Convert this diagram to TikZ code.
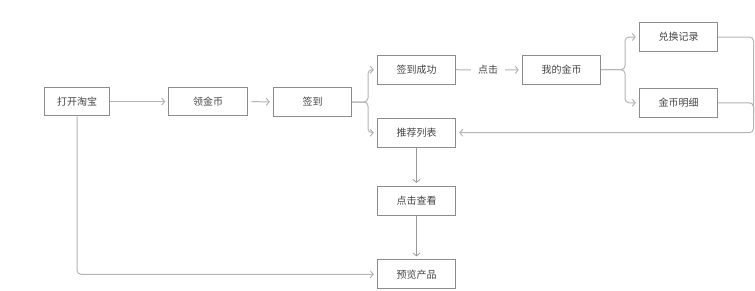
\documentclass[tikz,border=0pt]{standalone}
\usepackage{fontspec}
\setmainfont{Noto Sans CJK SC}
\usetikzlibrary{arrows.meta}
\definecolor{boxline}{HTML}{8C8C8C}
\definecolor{connline}{HTML}{B4B4B4}
\definecolor{vconn}{HTML}{9A9A9A}
\definecolor{txt}{HTML}{444444}
\begin{document}
\begin{tikzpicture}[x=1pt,y=-1pt,
  box/.style={draw=boxline,line width=0.9pt,fill=white,minimum width=78.4pt,minimum height=28.8pt,inner sep=0pt,text=txt,font=\fontsize{10}{12}\selectfont},
  lbl/.style={inner xsep=7pt,inner ysep=2pt,text=txt,font=\fontsize{10}{12}\selectfont},
  conn/.style={draw=connline,line width=1pt,rounded corners=4pt},
  arr/.style={conn,-{Straight Barb[length=3pt,width=7pt]},shorten >=3pt},
  varr/.style={arr,draw=vconn,line width=0.8pt}]
\useasboundingbox (0,0) rectangle (755,290);
\node[box,minimum width=64.6pt] (taobao) at (77,101.5) {打开淘宝};
\node[box] (lingjinbi) at (208,101.5) {领金币};
\node[box] (qiandao) at (312.5,102) {签到};
\node[box] (chenggong) at (416.5,69.7) {签到成功};
\node[lbl] (dianji) at (488,70) {点击};
\node[box] (wode) at (561.5,69.7) {我的金币};
\node[box] (duihuan) at (678.5,37) {兑换记录};
\node[box] (mingxi) at (678.5,102.8) {金币明细};
\node[box] (tuijian) at (416.5,132.7) {推荐列表};
\node[box] (chakan) at (416.5,200.8) {点击查看};
\node[box] (yulan) at (416.5,274.3) {预览产品};
\coordinate (j1) at (368,102);
\coordinate (j2) at (625,69.7);
\coordinate (r1) at (753.5,132.7);
\coordinate (r2) at (753.5,114);
\draw[arr] (taobao) -- (lingjinbi);
\draw[arr,shorten <=4pt] (lingjinbi) -- (qiandao);
\draw[arr] (qiandao.east) -- (j1) |- (chenggong.west);
\draw[arr] (qiandao.east) -- (j1) |- (tuijian.west);
\draw[conn] (chenggong.east) -- (dianji.west);
\draw[arr,shorten >=3pt] (dianji.east) -- (wode.west);
\draw[arr] (wode.east) -- (j2) |- (duihuan.west);
\draw[arr] (wode.east) -- (j2) |- (mingxi.west);
\draw[arr] (duihuan.east) -| (r1) -- (tuijian.east);
\draw[conn] (mingxi.east) -| (r2);
\draw[varr] (tuijian) -- (chakan);
\draw[varr] (chakan) -- (yulan);
\draw[arr] (taobao.south) |- (yulan.west);
\end{tikzpicture}
\end{document}
